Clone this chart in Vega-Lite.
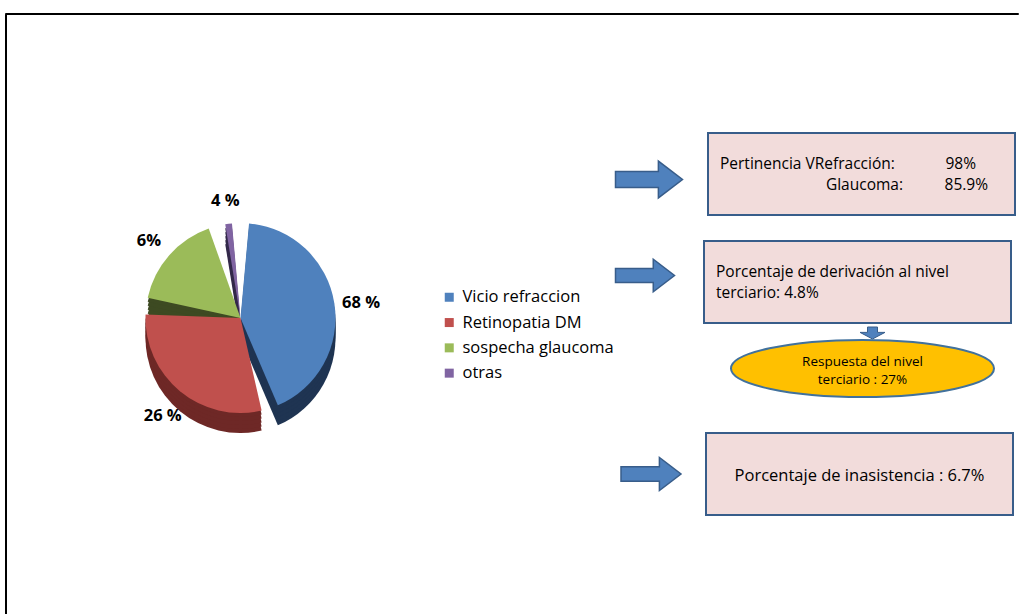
{
  "$schema": "https://vega.github.io/schema/vega-lite/v6.json",
  "background": "white",
  "padding": {"left": 4, "top": 12, "right": 0, "bottom": 0},
  "config": {"view": {"stroke": null}, "font": "Open Sans"},
  "spacing": 0,
  "bounds": "flush",
  "vconcat": [
    {"width": 1013, "height": 1, "view": {"stroke": "black", "strokeWidth": 1}, "data": {"values": []}, "mark": {"type": "text"}},
    {
      "spacing": 5,
      "bounds": "flush",
      "hconcat": [
        {"width": 1, "height": 600, "view": {"stroke": "black", "strokeWidth": 1}, "data": {"values": []}, "mark": {"type": "text"}},
        {
          "width": 596,
          "height": 600,
          "data": {"values": [
            {"categoria": "Vicio refraccion", "sector": 45, "etiqueta": "68 %", "orden": 1},
            {"categoria": "Retinopatia DM", "sector": 32, "etiqueta": "26 %", "orden": 2},
            {"categoria": "sospecha glaucoma", "sector": 19, "etiqueta": "6%", "orden": 3},
            {"categoria": "otras", "sector": 4, "etiqueta": "4 %", "orden": 4}
          ]},
          "encoding": {
            "theta": {"field": "sector", "type": "quantitative", "stack": true},
            "order": {"field": "orden", "type": "quantitative"}
          },
          "resolve": {"scale": {"color": "independent"}, "legend": {"color": "independent"}},
          "layer": [
            {
              "encoding": {"color": {"field": "categoria", "type": "nominal", "scale": {"domain": ["Vicio refraccion", "Retinopatia DM", "sospecha glaucoma", "otras"], "range": ["#1F3452", "#6E2826", "#3D4A22", "#33294A"]}, "legend": null}},
              "layer": [
                {"mark": {"type": "arc", "outerRadius": 95, "padAngle": 0.18, "xOffset": -68.5, "yOffset": 24}},
                {"mark": {"type": "arc", "outerRadius": 95, "padAngle": 0.18, "xOffset": -68.5, "yOffset": 20}},
                {"mark": {"type": "arc", "outerRadius": 95, "padAngle": 0.18, "xOffset": -68.5, "yOffset": 16}},
                {"mark": {"type": "arc", "outerRadius": 95, "padAngle": 0.18, "xOffset": -68.5, "yOffset": 12}},
                {"mark": {"type": "arc", "outerRadius": 95, "padAngle": 0.18, "xOffset": -68.5, "yOffset": 8}}
              ]
            },
            {"mark": {"type": "arc", "outerRadius": 95, "padAngle": 0.18, "xOffset": -68.5, "yOffset": 4},
             "encoding": {"color": {"field": "categoria", "type": "nominal",
               "scale": {"domain": ["Vicio refraccion", "Retinopatia DM", "sospecha glaucoma", "otras"], "range": ["#4F81BD", "#C0504D", "#9BBB59", "#8064A2"]},
               "legend": {"orient": "none", "legendX": 430, "legendY": 275, "title": null, "symbolType": "square", "symbolSize": 81, "symbolStrokeWidth": 0, "labelFontSize": 16.5, "labelFont": "Open Sans", "labelColor": "black", "rowPadding": 8.3, "labelOffset": 5, "padding": 0, "labelLimit": 300}}}},
            {"mark": {"type": "text", "radius": 122, "xOffset": -68.5, "yOffset": 8, "fontWeight": "bold", "fontSize": 16.5, "color": "black"},
             "encoding": {"text": {"field": "etiqueta", "type": "nominal"}}}
          ]
        },
        {
          "spacing": 0,
          "vconcat": [
            {
              "spacing": 24,
              "vconcat": [
                {"width": 1, "height": 94, "data": {"values": []}, "mark": {"type": "text"}},
                {
                  "spacing": 21,
                  "hconcat": [
                    {"width": 70, "height": 82, "data": {"values": [{"forma": "flecha"}]},
                     "mark": {"type": "point", "shape": "M-1,-0.24L0.28,-0.24L0.28,-0.55L1,0L0.28,0.55L0.28,0.24L-1,0.24Z", "size": 4489, "filled": true, "fill": "#4F81BD", "stroke": "#385D8A", "strokeWidth": 1.5, "opacity": 1, "xOffset": 2, "yOffset": 5.5}},
                    {"width": 307, "height": 82, "view": {"fill": "#F2DCDB", "stroke": "#385D8A", "strokeWidth": 2},
                     "layer": [
                       {"data": {"values": [{"texto": "Pertinencia VRefracción:"}]}, "mark": {"type": "text", "align": "left", "dx": -141.5, "dy": -10.5, "fontSize": 15.5, "color": "black"}, "encoding": {"text": {"field": "texto"}}},
                       {"data": {"values": [{"texto": "98%"}]}, "mark": {"type": "text", "align": "right", "dx": 114.5, "dy": -10.5, "fontSize": 15.5, "color": "black"}, "encoding": {"text": {"field": "texto"}}},
                       {"data": {"values": [{"texto": "Glaucoma:"}]}, "mark": {"type": "text", "align": "right", "dx": 41.5, "dy": 10.5, "fontSize": 15.5, "color": "black"}, "encoding": {"text": {"field": "texto"}}},
                       {"data": {"values": [{"texto": "85.9%"}]}, "mark": {"type": "text", "align": "right", "dx": 126.5, "dy": 10.5, "fontSize": 15.5, "color": "black"}, "encoding": {"text": {"field": "texto"}}}
                     ]}
                  ]
                },
                {
                  "spacing": 21,
                  "hconcat": [
                    {"width": 70, "height": 82, "data": {"values": [{"forma": "flecha"}]},
                     "mark": {"type": "point", "shape": "M-1,-0.24L0.28,-0.24L0.28,-0.55L1,0L0.28,0.55L0.28,0.24L-1,0.24Z", "size": 3481, "filled": true, "fill": "#4F81BD", "stroke": "#385D8A", "strokeWidth": 1.5, "opacity": 1, "xOffset": -2, "yOffset": -6.5}},
                    {"width": 307, "height": 82, "view": {"fill": "#F2DCDB", "stroke": "#385D8A", "strokeWidth": 2},
                     "layer": [
                       {"data": {"values": [{"texto": "Porcentaje de derivación al nivel"}]}, "mark": {"type": "text", "align": "left", "dx": -141.5, "dy": -10, "fontSize": 15.5, "color": "black"}, "encoding": {"text": {"field": "texto"}}},
                       {"data": {"values": [{"texto": "terciario: 4.8%"}]}, "mark": {"type": "text", "align": "left", "dx": -141.5, "dy": 11, "fontSize": 15.5, "color": "black"}, "encoding": {"text": {"field": "texto"}}}
                     ]}
                  ]
                }
              ]
            },
            {
              "spacing": 21,
              "hconcat": [
                {"width": 70, "height": 108, "data": {"values": []}, "mark": {"type": "text"}},
                {"width": 307, "height": 108,
                 "layer": [
                   {"data": {"values": [{"forma": "flecha abajo"}]},
                    "mark": {"type": "point", "shape": "M-0.4,-0.48L0.4,-0.48L0.4,-0.05L1,-0.05L0,0.48L-1,-0.05L-0.4,-0.05Z", "size": 625, "filled": true, "fill": "#4F81BD", "stroke": "#385D8A", "strokeWidth": 1, "opacity": 1, "xOffset": 16, "yOffset": -45}},
                   {"data": {"values": [{"forma": "elipse"}]},
                    "mark": {"type": "point", "shape": "M-1,0A1,0.217 0 1,1 1,0A1,0.217 0 1,1 -1,0Z", "size": 69169, "filled": true, "fill": "#FFC000", "stroke": "#41719C", "strokeWidth": 2, "opacity": 1, "xOffset": 6, "yOffset": -9.5}},
                   {"data": {"values": [{"texto": "Respuesta  del nivel"}]}, "mark": {"type": "text", "dx": 6, "dy": -16, "fontSize": 13.5, "color": "black"}, "encoding": {"text": {"field": "texto"}}},
                   {"data": {"values": [{"texto": "terciario : 27%"}]}, "mark": {"type": "text", "dx": 6, "dy": 1.5, "fontSize": 13.5, "color": "black"}, "encoding": {"text": {"field": "texto"}}}
                 ]}
              ]
            },
            {
              "spacing": 21,
              "hconcat": [
                {"width": 70, "height": 82, "data": {"values": [{"forma": "flecha"}]},
                 "mark": {"type": "point", "shape": "M-1,-0.24L0.28,-0.24L0.28,-0.55L1,0L0.28,0.55L0.28,0.24L-1,0.24Z", "size": 3600, "filled": true, "fill": "#4F81BD", "stroke": "#385D8A", "strokeWidth": 1.5, "opacity": 1, "xOffset": 4, "yOffset": 0}},
                {"width": 307, "height": 82, "view": {"fill": "#F2DCDB", "stroke": "#385D8A", "strokeWidth": 2},
                 "layer": [
                   {"data": {"values": [{"texto": "Porcentaje de inasistencia : 6.7%"}]}, "mark": {"type": "text", "dy": 2, "fontSize": 16.5, "color": "black"}, "encoding": {"text": {"field": "texto"}}}
                 ]}
              ]
            }
          ]
        }
      ]
    }
  ]
}
